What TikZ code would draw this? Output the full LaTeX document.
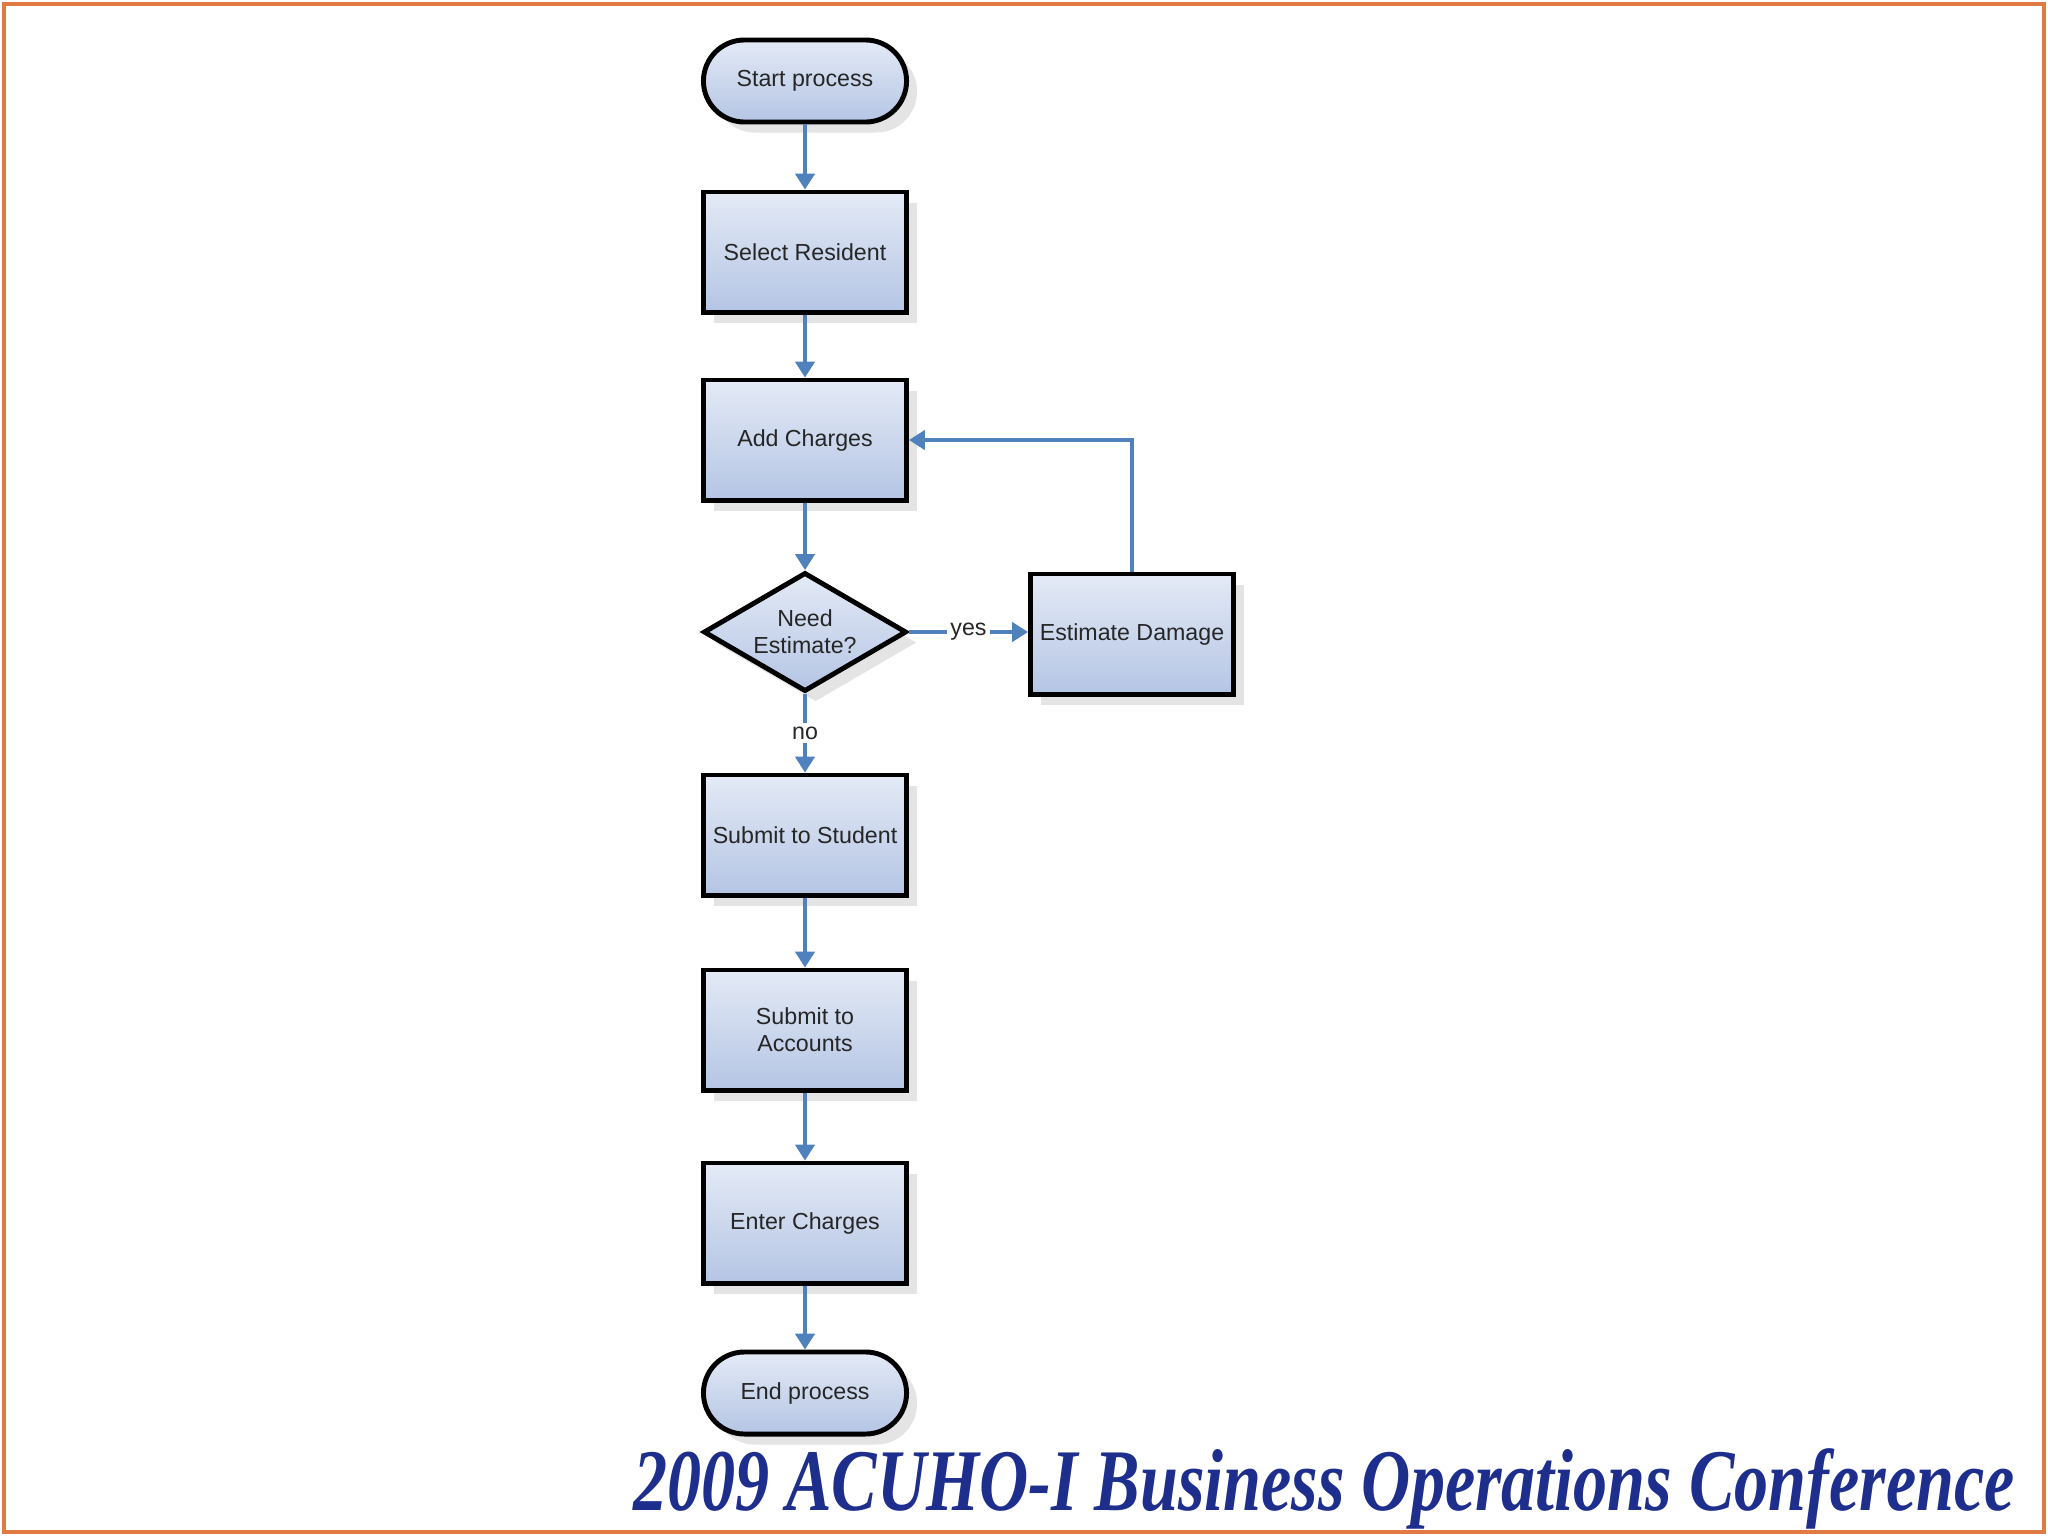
\documentclass[tikz,border=0pt]{standalone}
\usepackage{fontspec}
\setmainfont{Liberation Sans}
\newfontfamily\confont[FakeStretch=0.775]{Liberation Serif}
\usetikzlibrary{shapes.geometric,shadows,arrows.meta}
\definecolor{boxtop}{RGB}{228,234,246}
\definecolor{boxbot}{RGB}{180,197,228}
\definecolor{flowline}{RGB}{79,129,189}
\definecolor{frameorange}{RGB}{226,122,68}
\definecolor{confblue}{RGB}{30,46,140}
\begin{document}
\begin{tikzpicture}[x=0.01cm,y=-0.01cm,
  boxbase/.style={draw=black,line width=1.4pt,top color=boxtop,bottom color=boxbot,
    text=black!85,font=\fontsize{6.6}{7.6}\selectfont,align=center,
    drop shadow={shadow xshift=3pt,shadow yshift=-3pt,fill=black!30,opacity=0.35}},
  procbox/.style={boxbase,rectangle,minimum width=2.03cm,minimum height=1.2cm,inner sep=1pt},
  termbox/.style={boxbase,rectangle,rounded corners=0.41cm,minimum width=2.03cm,minimum height=0.82cm},
  decbox/.style={boxbase,diamond,aspect=1.7,minimum width=2.03cm,minimum height=1.19cm,inner sep=0pt},
  flow/.style={draw=flowline,line width=0.9pt,-{Triangle[length=4.5pt,width=5.5pt]}},
  lbl/.style={fill=white,inner sep=1pt,text=black!85,font=\fontsize{6.6}{7.6}\selectfont}]
\useasboundingbox (0,0) rectangle (2048,1536);
\draw[frameorange,line width=1.2pt] (4,4) rectangle (2044,1532);
\node[termbox] (start) at (805,81) {Start process};
\node[procbox] (select) at (805,252) {Select Resident};
\node[procbox] (add) at (805,440) {Add Charges};
\node[decbox] (need) at (805,632) {Need\\Estimate?};
\node[procbox] (estimate) at (1132,634) {Estimate Damage};
\node[procbox] (student) at (805,835) {Submit to Student};
\node[procbox] (accounts) at (805,1030) {Submit to\\Accounts};
\node[procbox] (enter) at (805,1223) {Enter Charges};
\node[termbox] (finish) at (805,1393) {End process};
\draw[flow] (start) -- (select);
\draw[flow] (select) -- (add);
\draw[flow] (add) -- (need);
\draw[flow] (need.east) -- node[lbl] {yes} (estimate.west |- need.east);
\draw[flow] (estimate.north) |- (add.east);
\draw[flow] (need.south) -- node[lbl] {no} (student.north);
\draw[flow] (student) -- (accounts);
\draw[flow] (accounts) -- (enter);
\draw[flow] (enter) -- (finish);
\node[anchor=base,text=confblue,font=\confont\bfseries\itshape\fontsize{25}{30}\selectfont] (conf) at (1324,1510) {2009 ACUHO-I Business Operations Conference};
\end{tikzpicture}
\end{document}
